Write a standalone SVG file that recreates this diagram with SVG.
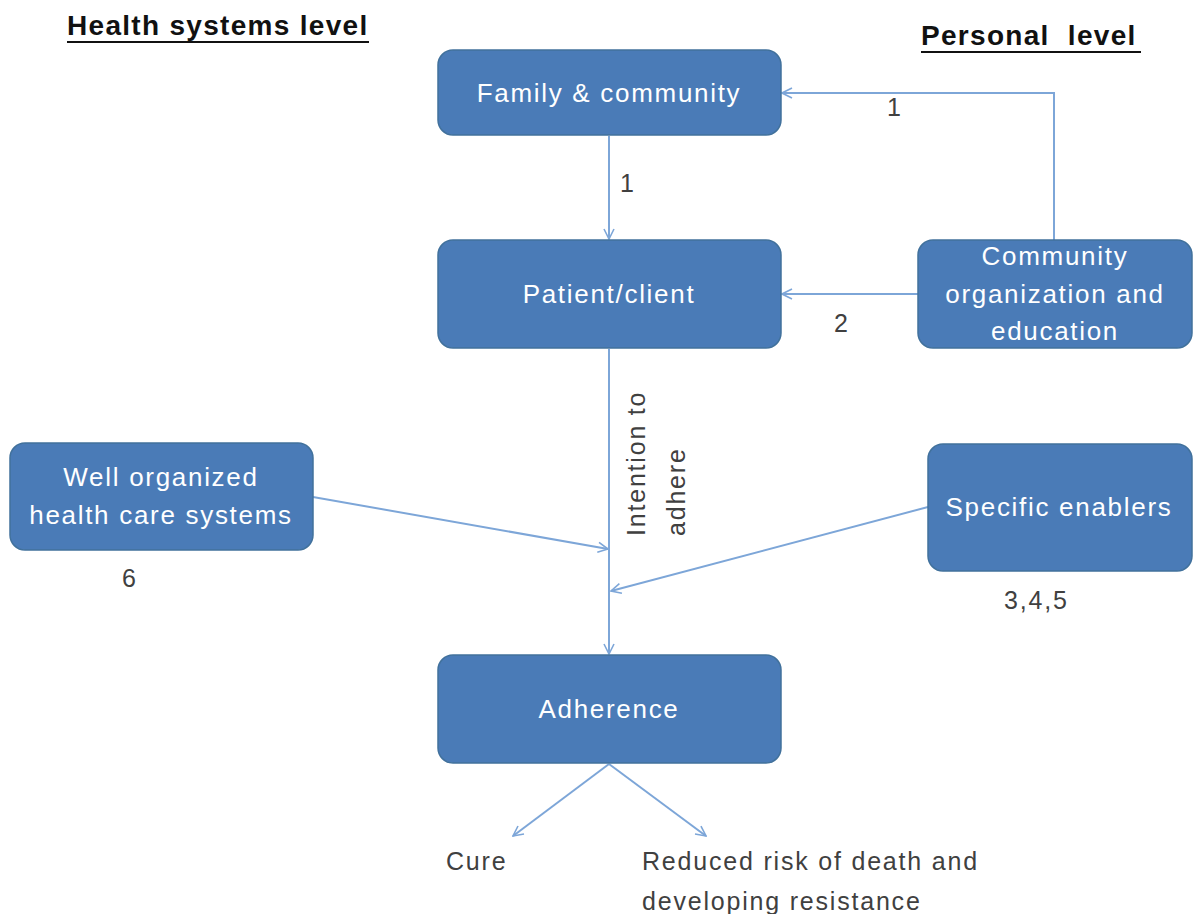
<svg xmlns="http://www.w3.org/2000/svg" width="1193" height="914" viewBox="0 0 1193 914">
<defs>
<style>
.node rect{fill:#4a7bb7;stroke:#41719c;stroke-width:1.5}
.node text{fill:#ffffff;font-family:"Liberation Sans",Arial,sans-serif;font-size:26px;text-anchor:middle;letter-spacing:1.7px}
.lbl{fill:#404040;font-family:"Liberation Sans",Arial,sans-serif;font-size:25px;letter-spacing:1.8px}
.hdr{fill:#111111;font-family:"Liberation Sans",Arial,sans-serif;font-size:28px;font-weight:bold;letter-spacing:1.3px}
.ul{stroke:#111111;stroke-width:2.2}
.conn{fill:none;stroke:#7da6d8;stroke-width:2}
</style>
<marker id="arr" viewBox="0 0 12 12" refX="11" refY="6" markerWidth="12" markerHeight="12" markerUnits="userSpaceOnUse" orient="auto">
<path d="M1,1 L11,6 L1,11" fill="none" stroke="#7da6d8" stroke-width="1.6"/>
</marker>
</defs>
<rect width="1193" height="914" fill="#ffffff"/>
<text class="hdr" x="67" y="35">Health systems level</text>
<line class="ul" x1="67" y1="42" x2="369" y2="42"/>
<text class="hdr" x="921" y="45" xml:space="preserve">Personal  level</text>
<line class="ul" x1="921" y1="52" x2="1141" y2="52"/>
<g id="connectors">
<path class="conn" d="M609,136 V239" marker-end="url(#arr)"/>
<path class="conn" d="M1054,240 V93 H782" marker-end="url(#arr)"/>
<path class="conn" d="M918,294 H782" marker-end="url(#arr)"/>
<path class="conn" d="M609,349 V654" marker-end="url(#arr)"/>
<path class="conn" d="M313,497 L608,549" marker-end="url(#arr)"/>
<path class="conn" d="M928,507 L611,591" marker-end="url(#arr)"/>
<path class="conn" d="M609,764 L513,836" marker-end="url(#arr)"/>
<path class="conn" d="M609,764 L706,836" marker-end="url(#arr)"/>
</g>
<text class="lbl" x="620" y="192">1</text>
<text class="lbl" x="887" y="116">1</text>
<text class="lbl" x="834" y="332">2</text>
<text class="lbl" transform="translate(645,536) rotate(-90)">Intention to</text>
<text class="lbl" transform="translate(685,536) rotate(-90)">adhere</text>
<text class="lbl" x="122" y="587">6</text>
<text class="lbl" x="1004" y="609">3,4,5</text>
<text class="lbl" x="446" y="870">Cure</text>
<text class="lbl" x="642" y="870">Reduced risk of death and</text>
<text class="lbl" x="642" y="910">developing resistance</text>
<g id="family" class="node">
<rect x="438" y="50" width="343" height="85" rx="15"/>
<text x="609" y="102">Family &amp; community</text>
</g>
<g id="patient" class="node">
<rect x="438" y="240" width="343" height="108" rx="15"/>
<text x="609" y="303">Patient/client</text>
</g>
<g id="community" class="node">
<rect x="918" y="240" width="274" height="108" rx="15"/>
<text x="1055" y="265">Community</text>
<text x="1055" y="303">organization and</text>
<text x="1055" y="340">education</text>
</g>
<g id="wellorg" class="node">
<rect x="10" y="443" width="303" height="107" rx="15"/>
<text x="161" y="486">Well organized</text>
<text x="161" y="524">health care systems</text>
</g>
<g id="enablers" class="node">
<rect x="928" y="444" width="264" height="127" rx="15"/>
<text x="1059" y="516">Specific enablers</text>
</g>
<g id="adherence" class="node">
<rect x="438" y="655" width="343" height="108" rx="15"/>
<text x="609" y="718">Adherence</text>
</g>
</svg>
